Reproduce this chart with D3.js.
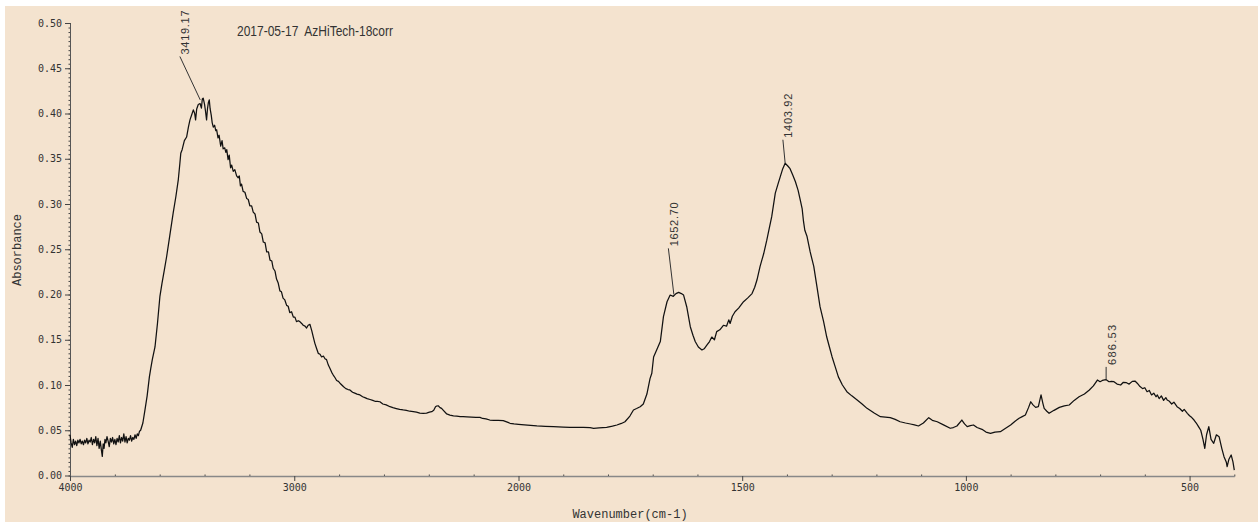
<!DOCTYPE html>
<html><head><meta charset="utf-8">
<script src="https://cdn.jsdelivr.net/npm/d3@7"></script>
<style>html,body{margin:0;padding:0;background:#fff;}svg{display:block;}</style>
</head><body>
<script>
const wavenumbers = [
4000,3995,3990,3985,3980,3975,3970,3965,3960,3955,3950,3945,3940,3935,3930,3925,3920,3915,3910,3905,3900,3895,3890,3885,3880,3875,3870,3865,3860,3856,3852,3848,3844,3840,3835,3830,3825,3820,3815,3810,3805,3800,3795,3790,3785,3780,3775,3770,3765,3760,3755,3750,3745,3740,3735,3730,3725,3720,3715,3710,3705,3700,3695,3690,3685,
3675,3666,3656,3646,3640,3633,3621,3610,3599,3590,3580,3569,3555,3540,3528,3517,3510,3506,3500,3490,3480,3472,3465,3458,3450,3444,3440,3435,3428,3420,3414,3410,3406,3400,3396,3391,3387,3383,3379,3375,3370,3366,3361,3355,3350,3346,3340,3335,3328,3322,3317,3310,3305,3301,3295,3290,3284,3279,3272,3265,3257,3250,3245,3240,3235,3228,3220,3212,3205,3198,3190,3183,3175,3168,3160,3153,3145,3138,3130,3123,3115,3108,3100,3094,3086,3079,3072,3064,3057,3050,3042,3034,3027,3020,3012,3004,2997,2990,2982,2975,2967,2960,2952,2945,2938,2930,2922,2915,2908,2900,2893,2885,2878,2870,2863,2856,2848,2840,2833,2826,2818,2811,2803,2796,2788,2780,2770,2760,2752,2740,2730,2720,2707,2695,2685,2675,2662,2650,2640,2630,2618,2605,2590,2573,2560,2545,2530,2514,2500,2485,2469,2455,2440,2425,2410,2397,2387,2378,2370,2365,2358,2350,2343,2335,2320,2306,2290,2275,2260,2247,2230,2210,2190,2172,2160,2145,2128,2110,2090,2068,2050,2038,2020,2000,1980,1959,1940,1922,1900,1885,1870,1855,1840,1832,1820,1803,1790,1780,1770,1762,1751,1743,1736,1728,1721,1713,1706,1702,1698,1690,1683,1676,1668,1661,1654,1648,1642,1636,1631,1624,1616,1610,1605,1598,1590,1585,1579,1573,1568,1562,1557,1550,1542,1535,1530,1527,1522,1516,1508,1497,1488,1478,1472,1467,1460,1452,1445,1440,1434,1426,1420,1415,1410,1404,1398,1393,1387,1381,1375,1370,1366,1363,1360,1355,1348,1340,1333,1326,1318,1311,1305,1299,1292,1285,1276,1266,1255,1243,1232,1221,1205,1191,1180,1169,1158,1147,1135,1124,1115,1106,1095,1083,1075,1064,1050,1035,1028,1020,1009,1003,997,990,983,975,964,955,945,935,923,912,900,890,881,874,867,860,855,850,844,838,832,828,825,819,814,803,791,780,769,758,747,735,724,715,706,700,695,687,680,675,669,662,654,648,641,635,628,622,617,612,605,600,595,590,585,580,575,572,568,563,558,553,550,545,540,535,528,522,516,512,505,500,495,490,485,480,475,470,466,462,457,452,446,440,434,428,423,418,416,412,407,403,400
];
const absorbance = [
0.045,0.036,0.031,0.040,0.034,0.038,0.033,0.039,0.036,0.040,0.035,0.038,0.034,0.039,0.036,0.041,0.035,0.039,0.037,0.042,0.034,0.040,0.036,0.043,0.033,0.041,0.030,0.038,0.028,0.021,0.035,0.030,0.040,0.036,0.043,0.038,0.032,0.041,0.037,0.042,0.035,0.040,0.034,0.041,0.037,0.044,0.036,0.042,0.038,0.046,0.037,0.043,0.036,0.041,0.039,0.044,0.038,0.042,0.040,0.045,0.041,0.046,0.044,0.049,0.050,
0.058,0.072,0.088,0.109,0.118,0.128,0.142,0.168,0.198,0.212,0.226,0.242,0.265,0.290,0.308,0.327,0.345,0.356,0.360,0.370,0.374,0.385,0.393,0.398,0.404,0.400,0.393,0.405,0.410,0.411,0.406,0.416,0.417,0.410,0.403,0.393,0.405,0.412,0.415,0.405,0.398,0.390,0.385,0.387,0.381,0.382,0.373,0.376,0.364,0.370,0.361,0.362,0.357,0.360,0.349,0.354,0.340,0.343,0.336,0.338,0.331,0.329,0.331,0.320,0.322,0.314,0.313,0.306,0.305,0.298,0.298,0.291,0.289,0.280,0.279,0.269,0.267,0.258,0.257,0.247,0.247,0.238,0.237,0.229,0.226,0.217,0.213,0.204,0.203,0.196,0.194,0.188,0.187,0.180,0.181,0.175,0.175,0.170,0.171,0.170,0.168,0.166,0.165,0.163,0.166,0.167,0.160,0.153,0.146,0.140,0.135,0.134,0.131,0.132,0.129,0.128,0.122,0.118,0.114,0.111,0.108,0.105,0.104,0.102,0.100,0.098,0.096,0.095,0.0945,0.092,0.091,0.090,0.089,0.087,0.086,0.085,0.084,0.083,0.082,0.082,0.0815,0.079,0.078,0.076,0.075,0.074,0.073,0.0724,0.072,0.071,0.0705,0.070,0.069,0.0687,0.069,0.070,0.0705,0.072,0.076,0.0768,0.077,0.075,0.0742,0.072,0.068,0.0668,0.066,0.0655,0.065,0.065,0.0648,0.0645,0.0643,0.0643,0.063,0.0625,0.0613,0.061,0.0608,0.0606,0.059,0.0577,0.057,0.0566,0.0556,0.0547,0.0543,0.054,0.0535,0.0533,0.0532,0.0533,0.0528,0.0522,0.0526,0.0533,0.0545,0.0558,0.0575,0.0594,0.0657,0.0724,0.0740,0.076,0.0790,0.0900,0.107,0.113,0.131,0.140,0.148,0.1755,0.192,0.1994,0.198,0.201,0.2024,0.201,0.1994,0.1865,0.1644,0.155,0.148,0.142,0.1387,0.140,0.144,0.148,0.153,0.150,0.159,0.161,0.166,0.165,0.172,0.168,0.176,0.181,0.185,0.192,0.196,0.201,0.208,0.216,0.231,0.245,0.260,0.272,0.286,0.312,0.322,0.330,0.338,0.345,0.342,0.339,0.332,0.3246,0.315,0.304,0.295,0.281,0.271,0.264,0.247,0.231,0.209,0.1865,0.170,0.153,0.142,0.131,0.120,0.109,0.100,0.0926,0.088,0.0834,0.079,0.0742,0.069,0.065,0.0645,0.0639,0.062,0.0594,0.058,0.0569,0.056,0.0547,0.058,0.0639,0.061,0.0594,0.056,0.0522,0.053,0.0547,0.0613,0.057,0.054,0.055,0.0558,0.053,0.051,0.048,0.0466,0.048,0.0484,0.052,0.0558,0.060,0.0632,0.065,0.0668,0.075,0.0815,0.078,0.0753,0.076,0.089,0.080,0.0742,0.071,0.0687,0.072,0.0753,0.077,0.0779,0.083,0.087,0.090,0.0945,0.099,0.1055,0.1036,0.105,0.106,0.1036,0.104,0.1036,0.101,0.100,0.103,0.1025,0.101,0.104,0.1044,0.102,0.099,0.096,0.097,0.0926,0.094,0.089,0.091,0.087,0.089,0.085,0.088,0.083,0.086,0.0834,0.082,0.079,0.081,0.076,0.074,0.071,0.073,0.0687,0.066,0.064,0.0613,0.058,0.054,0.050,0.040,0.030,0.045,0.054,0.040,0.0356,0.045,0.0429,0.030,0.0208,0.015,0.0097,0.018,0.0227,0.015,0.006
];
const yTicks = [0,0.05,0.10,0.15,0.20,0.25,0.30,0.35,0.40,0.45,0.50];
const xMajorTicks = [4000,3000,2000,1500,1000,500];
const xMinorTicks = [3800,3600,3400,3200,2800,2600,2400,2200,1900,1800,1700,1600,1400,1300,1200,1100,900,800,700,600,400];
const peakLabels = ["3419.17","1652.70","1403.92","686.53"];
const peakWn = [3419.17,1652.70,1403.92,686.53];
const peakAbs = [0.415,0.200,0.345,0.1055];
const leaderWn = [3510,1665,1409,686.5];
const leaderAbs = [0.463,0.251,0.371,0.120];
const titleText = "2017-05-17  AzHiTech-18corr";
const xTitle = "Wavenumber(cm-1)";
const yTitle = "Absorbance";

const W = 1258, H = 522;
const svg = d3.select("body").append("svg").attr("width", W).attr("height", H);
svg.append("rect").attr("x",0).attr("y",0).attr("width",W).attr("height",H).attr("fill","#fff");
svg.append("rect").attr("x",5).attr("y",6).attr("width",W-5).attr("height",H-6).attr("fill","#F4E3CF");

const x = d3.scaleLinear().domain([4000,2000,400]).range([70,518.5,1234.3]);
const y = d3.scaleLinear().domain([0,0.5]).range([475.5,23]);

// y axis
const yMinor = d3.range(0,0.5001,0.005);
svg.append("g").attr("transform","translate(70,0)")
  .call(d3.axisLeft(y).tickValues(yMinor).tickSize(2.5).tickFormat(""))
  .call(g=>{g.select(".domain").remove();g.selectAll("line").attr("stroke","#444").attr("transform","translate(1,0)");});
svg.append("g").attr("transform","translate(70,0)")
  .call(d3.axisLeft(y).tickValues(yTicks).tickSize(5).tickSizeOuter(0).tickPadding(3).tickFormat(d3.format(".2f")))
  .call(g=>{
    g.select(".domain").attr("stroke","#555");
    g.selectAll("line").attr("stroke","#444");
    g.selectAll("text").attr("font-family","'DejaVu Sans Mono', 'Liberation Mono', monospace").attr("font-size","10px").attr("fill","#333");
  });

// x axis
svg.append("g").attr("transform","translate(0,476)")
  .call(d3.axisBottom(x).tickValues(xMinorTicks).tickSize(2).tickFormat(""))
  .call(g=>{g.select(".domain").remove();g.selectAll("line").attr("stroke","#444").attr("transform","translate(0,-1.5)");});
svg.append("g").attr("transform","translate(0,476)")
  .call(d3.axisBottom(x).tickValues(xMajorTicks).tickSize(5).tickSizeOuter(0).tickPadding(3).tickFormat(d3.format("d")))
  .call(g=>{
    g.select(".domain").attr("stroke","#888").attr("stroke-width",1.5);
    g.selectAll("line").attr("stroke","#444");
    g.selectAll("text").attr("font-family","'DejaVu Sans Mono', 'Liberation Mono', monospace").attr("font-size","10px").attr("fill","#333");
  });

// axis titles
svg.append("text").attr("x",630).attr("y",518).attr("text-anchor","middle")
  .attr("font-family","'Liberation Mono', 'DejaVu Sans Mono', monospace").attr("font-size","12px").attr("fill","#333")
  .text(xTitle);
svg.append("text").attr("transform","translate(21,250) rotate(-90)").attr("text-anchor","middle")
  .attr("font-family","'Liberation Mono', 'DejaVu Sans Mono', monospace").attr("font-size","12px").attr("fill","#333")
  .text(yTitle);

// title
svg.append("text").attr("x",237).attr("y",36)
  .style("white-space","pre")
  .attr("font-family","'Liberation Sans', Arial, sans-serif").attr("font-size","15px").attr("fill","#333")
  .attr("textLength",156).attr("lengthAdjust","spacingAndGlyphs")
  .text(titleText);

// spectrum
const pts = wavenumbers.map((w,i)=>[w,absorbance[i]]);
svg.append("path").datum(pts)
  .attr("d", d3.line().x(d=>x(d[0])).y(d=>y(d[1])))
  .attr("fill","none").attr("stroke","#111").attr("stroke-width",1.25).attr("stroke-linejoin","round");

// peak annotations
peakLabels.forEach((lab,i)=>{
  const x1 = x(peakWn[i]), y1 = y(peakAbs[i]);
  const x2 = x(leaderWn[i]), y2 = y(leaderAbs[i]);
  svg.append("line").attr("x1",x1).attr("y1",y1).attr("x2",x2).attr("y2",y2)
    .attr("stroke","#333").attr("stroke-width",1);
  const len = lab.length === 7 ? 44 : 40;
  svg.append("text").attr("transform",`translate(${x2+9.5},${y2-2}) rotate(-90)`)
    .attr("font-family","'Liberation Sans', Arial, sans-serif").attr("font-size","11px").attr("fill","#333")
    .attr("textLength",len).attr("lengthAdjust","spacing")
    .text(lab);
});
</script>
</body></html>
